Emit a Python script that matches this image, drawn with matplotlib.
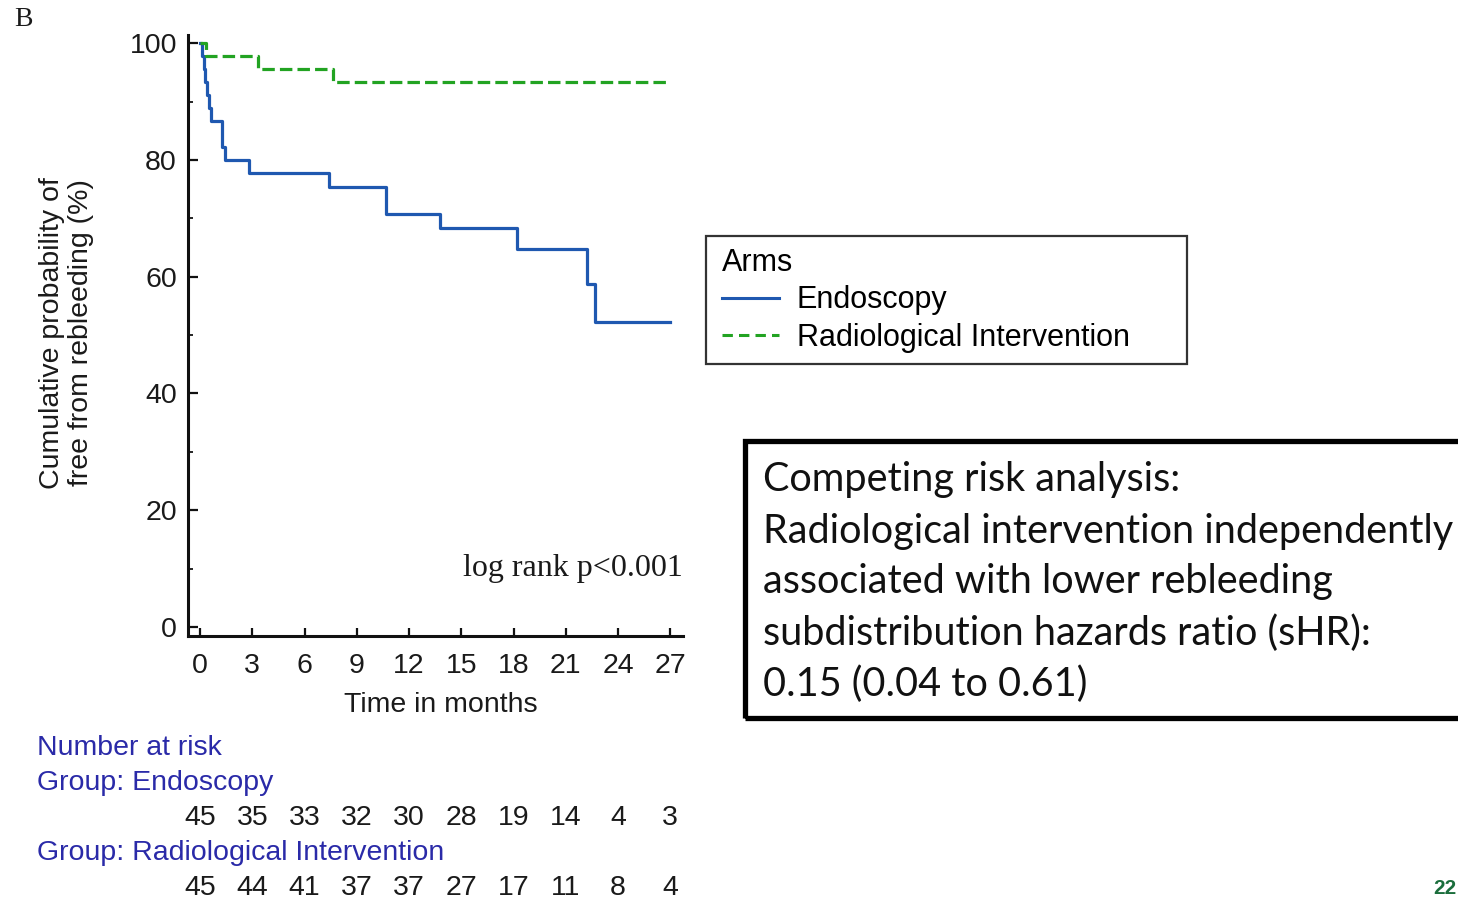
import matplotlib
matplotlib.use("Agg")
import matplotlib.pyplot as plt
from matplotlib.patches import Rectangle
import matplotlib.transforms as mtransforms

# ---------------- data ----------------
endo_time = [0, 0.1, 0.2, 0.3, 0.4, 0.5, 0.65, 1.25, 1.45, 2.8, 7.4, 10.7, 13.8, 18.2, 22.2, 22.7, 27]
endo_surv = [100, 97.8, 95.6, 93.3, 91.1, 88.9, 86.7, 82.2, 80.0, 77.8, 75.4, 70.8, 68.3, 64.7, 58.8, 52.3, 52.3]
radio_time = [0, 0.35, 3.35, 7.65, 27]
radio_surv = [100, 97.8, 95.6, 93.3, 93.3]

x_ticks = [0, 3, 6, 9, 12, 15, 18, 21, 24, 27]
y_ticks = [0, 20, 40, 60, 80, 100]
risk_endo = [45, 35, 33, 32, 30, 28, 19, 14, 4, 3]
risk_radio = [45, 44, 41, 37, 37, 27, 17, 11, 8, 4]

box_lines = ["Competing risk analysis:",
             "Radiological intervention independently",
             "associated with lower rebleeding",
             "subdistribution hazards ratio (sHR):",
             "0.15 (0.04 to 0.61)"]

BLUE = "#1f58b0"
GREEN = "#22a322"
NAVY = "#2a2aa8"
TXT = "#1a1a1a"

W, H = 1458, 900
plt.rcParams['font.family'] = ['Liberation Sans', 'DejaVu Sans']
fig = plt.figure(figsize=(W / 100, H / 100), dpi=100)
fig.patch.set_facecolor("white")

def fx(px):
    return px / W

def fy(py):
    return 1 - py / H

# axes: left spine x=188, right 683, top y=35, bottom 636
ax = fig.add_axes([fx(188), fy(636), fx(683) - fx(188), fy(35) - fy(636)])
ax.set_xlim(-0.69, 27.73)
ax.set_ylim(-1.54, 101.4)

ax.step(endo_time, endo_surv, where="post", color=BLUE, lw=2.3, label="Endoscopy")
ax.step(radio_time, radio_surv, where="post", color=GREEN, lw=2.3,
        linestyle=(0, (3.9, 1.6)), label="Radiological Intervention")

for side in ["top", "right"]:
    ax.spines[side].set_visible(False)
for side in ["left", "bottom"]:
    ax.spines[side].set_linewidth(2.2)
    ax.spines[side].set_color("#111111")

ax.set_xticks(x_ticks)
ax.set_yticks(y_ticks)
ax.set_yticks(list(range(10, 100, 20)), minor=True)
ax.tick_params(axis="both", which="major", direction="in", labelsize=20.5,
               labelcolor=TXT, width=1.6, color="#111111")
ax.tick_params(axis="y", which="major", length=7, pad=8)
ax.tick_params(axis="y", which="minor", direction="in", length=3.5, width=1.2)
ax.tick_params(axis="x", which="major", length=6, pad=12.5)

# axis labels
fig.text(fx(441), fy(705), "Time in months", ha="center", va="center",
         fontsize=20.5, color=TXT)
fig.text(fx(67), fy(333), "Cumulative probability of\nfree from rebleeding (%)",
         ha="center", va="center", rotation=90, fontsize=20.5, color=TXT,
         linespacing=1.15)

ax.text(27.7, 10.0, "log rank p<0.001", ha="right", va="center",
        fontsize=23, family=["Liberation Serif", "DejaVu Serif"], color=TXT)

fig.text(fx(14), fy(20), "B", ha="left", va="center", fontsize=20,
         family=["Liberation Serif", "DejaVu Serif"], color=TXT)

# legend (frame drawn separately)
leg = ax.legend(loc="upper left", bbox_to_anchor=(fx(722), fy(248)),
                bbox_transform=fig.transFigure, frameon=False, title="Arms",
                fontsize=22, title_fontsize=22, handlelength=1.85,
                handletextpad=0.6, labelspacing=0.24, borderpad=0,
                borderaxespad=0, alignment="left")
for h in leg.legend_handles:
    h.set_linewidth(2.2)
leg.legend_handles[1].set_linestyle((0, (3.4, 2.0)))
fig.add_artist(Rectangle((fx(706), fy(364)), fx(1187) - fx(706), fy(236) - fy(364),
                         transform=fig.transFigure, fill=False,
                         edgecolor="#333333", lw=1.6))

# competing risk box
fig.add_artist(Rectangle((fx(745), fy(718)), fx(1475) - fx(745), fy(441) - fy(718),
                         transform=fig.transFigure, fill=False,
                         edgecolor="black", lw=3.8, clip_on=False))
for i, line in enumerate(box_lines):
    fig.text(fx(763), fy(480 + i * 51.0), line, ha="left", va="center",
             fontsize=28.5, family=["Lato", "DejaVu Sans"], color="#111111")

# number at risk table
fig.text(fx(37), fy(748), "Number at risk", ha="left", va="center",
         fontsize=20.5, color=NAVY)
fig.text(fx(37), fy(783), "Group: Endoscopy", ha="left", va="center",
         fontsize=20.5, color=NAVY)
fig.text(fx(37), fy(853), "Group: Radiological Intervention", ha="left", va="center",
         fontsize=20.5, color=NAVY)
trans = mtransforms.blended_transform_factory(ax.transData, fig.transFigure)
for t, n1, n2 in zip(x_ticks, risk_endo, risk_radio):
    ax.text(t, fy(818), str(n1), transform=trans, ha="center", va="center",
            fontsize=20.5, color=TXT, clip_on=False)
    ax.text(t, fy(888), str(n2), transform=trans, ha="center", va="center",
            fontsize=20.5, color=TXT, clip_on=False)

fig.text(fx(1456), fy(888), "22", ha="right", va="center", fontsize=15,
         fontweight="bold", color="#1b6e3c")

fig.savefig("out.png", dpi=100, facecolor="white")
